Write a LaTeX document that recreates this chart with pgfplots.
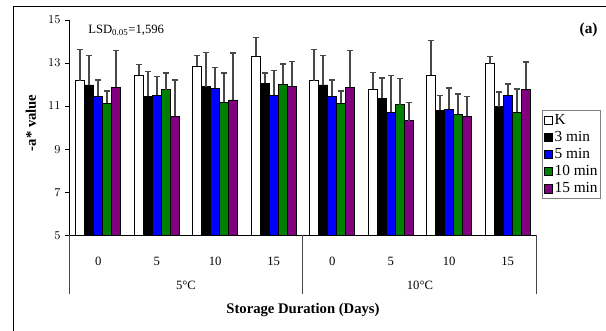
\documentclass[border=0pt]{standalone}
\usepackage{pgfplots}
\pgfplotsset{compat=1.18}
\usepackage{fontspec}
\setmainfont{Liberation Serif}
\definecolor{cgreen}{RGB}{0,128,0}
\definecolor{cpurple}{RGB}{128,0,128}
\definecolor{cblue}{RGB}{0,0,255}
\definecolor{errgray}{RGB}{72,72,72}
\begin{document}
\fontsize{9.5}{11}\selectfont
\begin{tikzpicture}
\begin{axis}[
  at={(51.75pt,71.78pt)}, anchor=south west,
  scale only axis, width=351pt, height=161.5pt,
  xmin=0, xmax=8, ymin=5, ymax=15,
  axis lines=left, axis line style={-, black, line width=0.6pt},
  ytick={5,7,...,15}, tick align=outside, major tick length=3pt,
  ytick pos=left, y tick style={black, line width=0.6pt},
  xtick={0.5,1.5,...,7.5}, xticklabels={0,5,10,15,0,5,10,15},
  x tick style={draw=none},
  xticklabel style={anchor=center, yshift=-16.5pt},
  tick label style={font=\fontsize{9.5}{11}\selectfont},
  ybar=0pt, bar width=0.1538,
  clip=false,
  every axis plot/.append style={draw=black, line width=0.5pt,
    error bars/y dir=plus, error bars/y explicit,
    error bars/error bar style={errgray, line width=1.3pt},
    error bars/error mark options={rotate=90, errgray, line width=1.1pt, mark size=2.4pt}},
  legend image code/.code={\draw[#1,draw=black,line width=0.5pt] (0pt,-3.2pt) rectangle (6.4pt,3.2pt);},
  legend style={at={(1.0107,0.582)}, anchor=north west, draw=gray, line width=0.7pt,
    font=\fontsize{11.5}{12.75}\selectfont, inner xsep=1pt, inner ysep=1pt,
    row sep=0pt, legend cell align=left,
    /tikz/every odd column/.append style={column sep=0pt},
    nodes={inner xsep=1.2pt, inner ysep=0.9pt, text height=8.5pt, text depth=2.5pt}},
]
\addplot[fill=white] coordinates {
(0.5,12.18) +- (0,1.44) (1.5,12.44) +- (0,0.48) (2.5,12.84) +- (0,0.50) (3.5,13.33) +- (0,0.85)
(4.5,12.18) +- (0,1.44) (5.5,11.79) +- (0,0.77) (6.5,12.43) +- (0,1.61) (7.5,12.97) +- (0,0.34)};
\addlegendentry{K}
\addplot[fill=black] coordinates {
(0.5,11.98) +- (0,1.37) (1.5,11.45) +- (0,1.16) (2.5,11.90) +- (0,1.59) (3.5,12.07) +- (0,0.46)
(4.5,11.98) +- (0,1.37) (5.5,11.37) +- (0,0.93) (6.5,10.80) +- (0,0.69) (7.5,10.98) +- (0,0.67)};
\addlegendentry{3 min}
\addplot[fill=cblue] coordinates {
(0.5,11.45) +- (0,0.77) (1.5,11.51) +- (0,0.87) (2.5,11.84) +- (0,0.96) (3.5,11.51) +- (0,1.15)
(4.5,11.45) +- (0,0.77) (5.5,10.72) +- (0,1.69) (6.5,10.86) +- (0,0.98) (7.5,11.51) +- (0,0.51)};
\addlegendentry{5 min}
\addplot[fill=cgreen] coordinates {
(0.5,11.14) +- (0,0.57) (1.5,11.76) +- (0,0.77) (2.5,11.17) +- (0,1.36) (3.5,12.02) +- (0,0.93)
(4.5,11.14) +- (0,0.57) (5.5,11.06) +- (0,1.22) (6.5,10.63) +- (0,0.93) (7.5,10.72) +- (0,1.08)};
\addlegendentry{10 min}
\addplot[fill=cpurple] coordinates {
(0.5,11.87) +- (0,1.72) (1.5,10.53) +- (0,1.69) (2.5,11.29) +- (0,2.17) (3.5,11.91) +- (0,1.16)
(4.5,11.87) +- (0,1.72) (5.5,10.32) +- (0,0.85) (6.5,10.53) +- (0,0.92) (7.5,11.79) +- (0,1.25)};
\addlegendentry{15 min}
\draw[errgray, line width=0.75pt] (axis cs:0,5) -- ++(0pt,-44.25pt);
\draw[errgray, line width=0.75pt] (axis cs:4,5) -- ++(0pt,-44.25pt);
\draw[errgray, line width=0.75pt] (axis cs:8,5) -- ++(0pt,-44.25pt);
\node at ([yshift=-37.5pt]axis cs:2,5) {5°C};
\node at ([yshift=-37.5pt]axis cs:6,5) {10°C};
\node[font=\fontsize{11}{13}\selectfont\bfseries] at ([yshift=-56.25pt]axis cs:4,5) {Storage Duration (Days)};
\node[rotate=90, font=\fontsize{11}{13}\selectfont\bfseries] at ([xshift=-28.5pt]axis cs:0,10.22) {-a* value};
\node[anchor=base west, inner sep=0pt] at (axis cs:0.325,14.36) {LSD\textsubscript{0.05}=1,596};
\node[anchor=east, inner sep=0pt, font=\fontsize{11.5}{13}\selectfont\bfseries] at (axis cs:9.04,14.55) {(a)};
\end{axis}
\draw[black, line width=0.75pt] (9.75pt,-20pt) -- (9.75pt,243pt) -- (480pt,243pt);
\pgfresetboundingbox
\useasboundingbox (0,0) rectangle (454.5pt,248.25pt);
\end{tikzpicture}
\end{document}
